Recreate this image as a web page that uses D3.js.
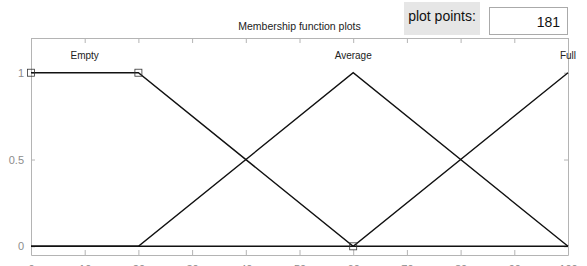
<!DOCTYPE html>
<html>
<head>
<meta charset="utf-8">
<script src="https://cdn.jsdelivr.net/npm/d3@7"></script>
<style>
  body { margin: 0; background: #fff; }
  svg { display: block; font-family: "Liberation Sans", Arial, sans-serif; }
</style>
</head>
<body>
<script>
// 数据
const xTicks = [0, 10, 20, 30, 40, 50, 60, 70, 80, 90, 100];
const yTicks = [0, 0.5, 1];
const mfNames = ['Empty', 'Average', 'Full'];
const mfLabelX = [10, 60, 100];
const mfEmpty = [[0, 1], [20, 1], [60, 0], [100, 0]];
const mfAverage = [[0, 0], [20, 0], [60, 1], [100, 0]];
const mfFull = [[0, 0], [60, 0], [100, 1]];
const markers = [[0, 1], [20, 1], [60, 0]];
const plotPoints = 181;

const width = 587, height = 266;
const margin = {top: 38, right: 19, bottom: 11, left: 31};

const svg = d3.select('body').append('svg')
  .attr('width', width)
  .attr('height', height);

const x = d3.scaleLinear().domain([0, 100]).range([margin.left, width - margin.right]);
const y = d3.scaleLinear().domain([-0.05, 1.2]).range([height - margin.bottom, margin.top]);

const axisColor = '#b4b4b4';
const textColor = '#8c8c8c';

// 坐标轴
svg.append('g')
  .attr('transform', `translate(0,${height - margin.bottom})`)
  .call(d3.axisBottom(x).tickValues(xTicks).tickSizeInner(-5).tickSizeOuter(0).tickPadding(10))
  .call(g => g.select('.domain').attr('stroke', axisColor))
  .call(g => g.selectAll('line').attr('stroke', axisColor))
  .call(g => g.selectAll('text').attr('fill', textColor).style('font-size', '11px'));

svg.append('g')
  .attr('transform', `translate(0,${margin.top})`)
  .call(d3.axisTop(x).tickValues(xTicks).tickSizeInner(-5).tickSizeOuter(0).tickFormat(''))
  .call(g => g.select('.domain').attr('stroke', axisColor))
  .call(g => g.selectAll('line').attr('stroke', axisColor));

svg.append('g')
  .attr('transform', `translate(${margin.left},0)`)
  .call(d3.axisLeft(y).tickValues(yTicks).tickSizeInner(-4).tickSizeOuter(0).tickPadding(7)
    .tickFormat(d3.format('')))
  .call(g => g.select('.domain').attr('stroke', axisColor))
  .call(g => g.selectAll('line').attr('stroke', axisColor))
  .call(g => g.selectAll('text').attr('fill', textColor).style('font-size', '11px'));

svg.append('g')
  .attr('transform', `translate(${width - margin.right},0)`)
  .call(d3.axisRight(y).tickValues(yTicks).tickSizeInner(-4).tickSizeOuter(0).tickFormat(''))
  .call(g => g.select('.domain').attr('stroke', axisColor))
  .call(g => g.selectAll('line').attr('stroke', axisColor));

// 隶属函数
const line = d3.line().x(d => x(d[0])).y(d => y(d[1]));
[mfEmpty, mfAverage, mfFull].forEach(mf => {
  svg.append('path')
    .datum(mf)
    .attr('d', line)
    .attr('fill', 'none')
    .attr('stroke', '#111')
    .attr('stroke-width', 1.4);
});

// 方块标记
svg.append('g').selectAll('rect')
  .data(markers)
  .join('rect')
  .attr('x', d => x(d[0]) - 3.5)
  .attr('y', d => y(d[1]) - 3.5)
  .attr('width', 7)
  .attr('height', 7)
  .attr('fill', 'none')
  .attr('stroke', '#333')
  .attr('stroke-width', 0.8);

// 名称
svg.append('g').selectAll('text')
  .data(mfNames)
  .join('text')
  .attr('x', (d, i) => x(mfLabelX[i]))
  .attr('y', y(1.1))
  .attr('dy', '0.35em')
  .attr('text-anchor', 'middle')
  .style('font-size', '10px')
  .attr('fill', '#222')
  .text(d => d);

// 标题
svg.append('text')
  .attr('x', (x(0) + x(100)) / 2)
  .attr('y', 30)
  .attr('text-anchor', 'middle')
  .style('font-size', '10.5px')
  .attr('fill', '#222')
  .text('Membership function plots');

// plot points
svg.append('rect')
  .attr('x', 404).attr('y', 2).attr('width', 76).attr('height', 33)
  .attr('fill', '#e6e6e6');
svg.append('text')
  .attr('x', 442).attr('y', 21)
  .attr('text-anchor', 'middle')
  .style('font-size', '14px')
  .attr('fill', '#111')
  .text('plot points:');
svg.append('rect')
  .attr('x', 489.5).attr('y', 7.5).attr('width', 78).attr('height', 27)
  .attr('fill', '#fff')
  .attr('stroke', '#aaa');
svg.append('text')
  .attr('x', 560).attr('y', 27)
  .attr('text-anchor', 'end')
  .style('font-size', '14px')
  .attr('fill', '#111')
  .text(plotPoints);
</script>
</body>
</html>
